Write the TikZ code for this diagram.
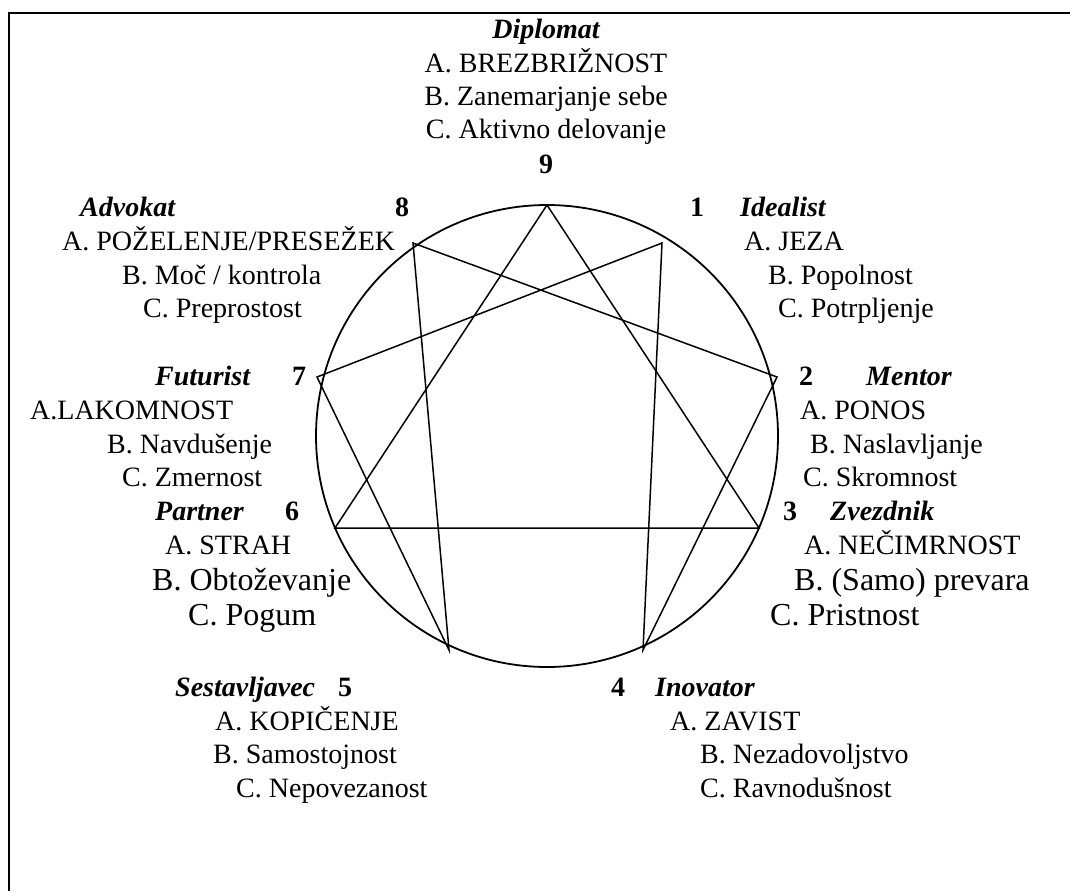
\documentclass[tikz,border=0pt]{standalone}
\usepackage{fontspec}
\setmainfont{Liberation Serif}
\begin{document}
\begin{tikzpicture}[x=1pt,y=-1pt,
    txt/.style={inner sep=0pt,anchor=west,text height=20pt,text depth=6pt,font=\fontsize{28}{34}\selectfont},
    big/.style={txt,text height=23pt,text depth=7pt,font=\fontsize{32}{38}\selectfont},
    hdr/.style={txt,font=\fontsize{28}{34}\selectfont\bfseries\itshape},
    num/.style={txt,anchor=center,font=\fontsize{28}{34}\selectfont\bfseries},
    mid/.style={txt,anchor=center},
    edge/.style={line width=1.5pt}]
    \useasboundingbox (0,0) rectangle (1070,891);
    \draw[line width=2.2pt] (9,891) -- (9,13) -- (1070,13);
    \draw[line width=1.8pt] (547,436) circle(231);

    \coordinate (p9) at (547,205);
    \coordinate (p1) at (662,243);
    \coordinate (p2) at (777,377);
    \coordinate (p3) at (759,528);
    \coordinate (p4) at (643,650);
    \coordinate (p5) at (449,650);
    \coordinate (p6) at (335,528);
    \coordinate (p7) at (317,377);
    \coordinate (p8) at (413,243);

    \draw[edge] (p9) -- (p3) -- (p6) -- cycle;
    \draw[edge] (p1) -- (p4) -- (p2) -- (p8) -- (p5) -- (p7) -- cycle;

    % 9
    \node[hdr,anchor=center] (h9) at (546,32) {Diplomat};
    \node[mid] (a9) at (546,65) {A. BREZBRIŽNOST};
    \node[mid] (b9) at (546,98) {B. Zanemarjanje sebe};
    \node[mid] (c9) at (546,131) {C. Aktivno delovanje};
    \node[num] (n9) at (546,166) {9};
    % 8
    \node[hdr] (h8) at (80,209) {Advokat};
    \node[num] (n8) at (402,209) {8};
    \node[txt] (a8) at (62,243) {A. POŽELENJE/PRESEŽEK};
    \node[txt] (b8) at (122,277) {B. Moč / kontrola};
    \node[txt] (c8) at (143,310) {C. Preprostost};
    % 1
    \node[num] (n1) at (697,209) {1};
    \node[hdr] (h1) at (740,209) {Idealist};
    \node[txt] (a1) at (744,243) {A. JEZA};
    \node[txt] (b1) at (768,277) {B. Popolnost};
    \node[txt] (c1) at (778,310) {C. Potrpljenje};
    % 7
    \node[hdr] (h7) at (155,378) {Futurist};
    \node[num] (n7) at (299,378) {7};
    \node[txt] (a7) at (30,412) {A.LAKOMNOST};
    \node[txt] (b7) at (107,446) {B. Navdušenje};
    \node[txt] (c7) at (122,479) {C. Zmernost};
    % 2
    \node[num] (n2) at (806,378) {2};
    \node[hdr] (h2) at (866,378) {Mentor};
    \node[txt] (a2) at (800,412) {A. PONOS};
    \node[txt] (b2) at (810,446) {B. Naslavljanje};
    \node[txt] (c2) at (803,479) {C. Skromnost};
    % 6
    \node[hdr] (h6) at (155,513) {Partner};
    \node[num] (n6) at (292,513) {6};
    \node[txt] (a6) at (165,547) {A. STRAH};
    \node[big] (b6) at (152,582) {B. Obtoževanje};
    \node[big] (c6) at (188,617) {C. Pogum};
    % 3
    \node[num] (n3) at (790,513) {3};
    \node[hdr] (h3) at (830,513) {Zvezdnik};
    \node[txt] (a3) at (804,547) {A. NEČIMRNOST};
    \node[big] (b3) at (794,582) {B. (Samo) prevara};
    \node[big] (c3) at (770,617) {C. Pristnost};
    % 5
    \node[hdr] (h5) at (175,689) {Sestavljavec};
    \node[num] (n5) at (345,689) {5};
    \node[txt] (a5) at (215,723) {A. KOPIČENJE};
    \node[txt] (b5) at (213,756) {B. Samostojnost};
    \node[txt] (c5) at (236,790) {C. Nepovezanost};
    % 4
    \node[num] (n4) at (618,689) {4};
    \node[hdr] (h4) at (655,689) {Inovator};
    \node[txt] (a4) at (670,723) {A. ZAVIST};
    \node[txt] (b4) at (700,756) {B. Nezadovoljstvo};
    \node[txt] (c4) at (700,790) {C. Ravnodušnost};
\end{tikzpicture}
\end{document}
